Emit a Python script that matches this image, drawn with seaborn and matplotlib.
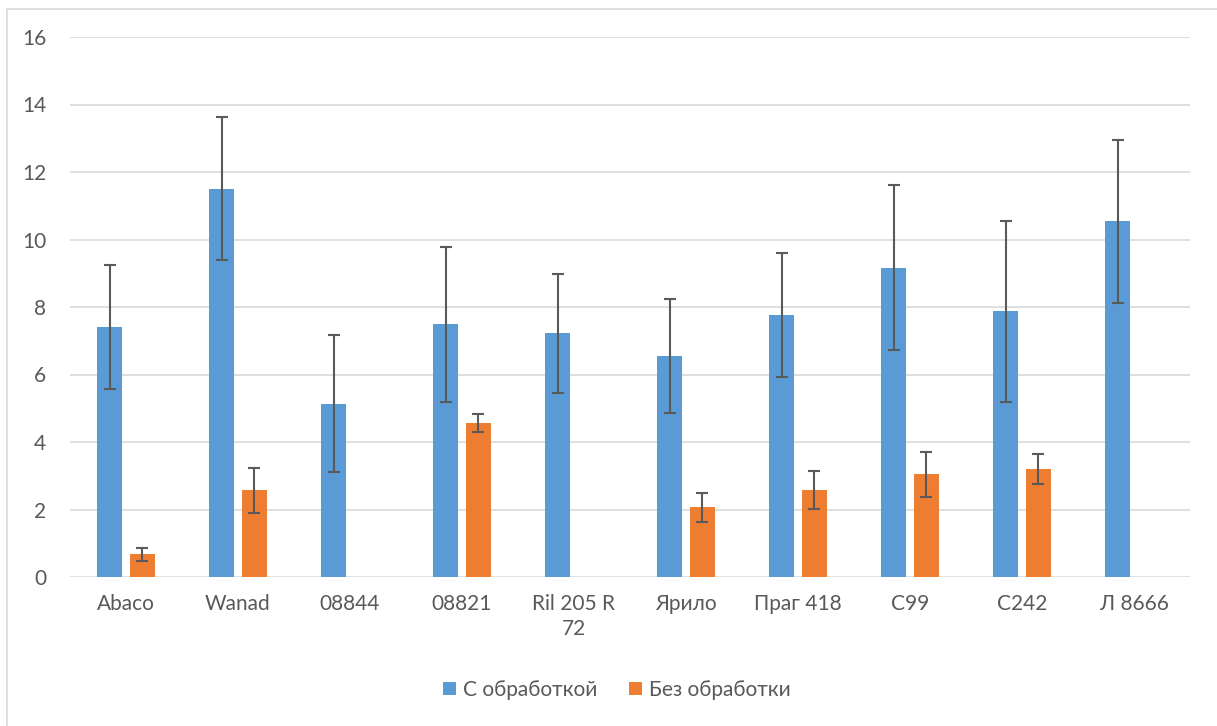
import numpy as np
import pandas as pd
import matplotlib
matplotlib.use("Agg")
import matplotlib.pyplot as plt
from matplotlib.patches import Patch, Rectangle
import seaborn as sns

# Varieties / lines on the x axis
categories = ["Abaco", "Wanad", "08844", "08821", "Ril 205 R\n72",
              "Ярило", "Праг 418", "C99", "C242", "Л 8666"]
series_names = ["С обработкой", "Без обработки"]

# Means (None = no measurement)
treated = [7.40, 11.50, 5.14, 7.49, 7.22, 6.55, 7.77, 9.17, 7.87, 10.54]
untreated = [0.67, 2.57, None, 4.57, None, 2.06, 2.57, 3.04, 3.20, None]

# Error bar half-widths
treated_err = [1.83, 2.12, 2.04, 2.30, 1.76, 1.69, 1.84, 2.45, 2.67, 2.42]
untreated_err = [0.20, 0.67, None, 0.26, None, 0.43, 0.56, 0.66, 0.44, None]

yticks = [0, 2, 4, 6, 8, 10, 12, 14, 16]

colors = {"С обработкой": "#5B9BD5", "Без обработки": "#ED7D31"}
text_color = "#595959"
grid_color = "#D9D9D9"

rows = []
for cat, t, u in zip(categories, treated, untreated):
    rows.append({"cat": cat, "series": series_names[0], "value": t})
    if u is not None:
        rows.append({"cat": cat, "series": series_names[1], "value": u})
df = pd.DataFrame(rows)

sns.set_theme(style="white")
plt.rcParams["font.family"] = ["Lato", "DejaVu Sans"]

fig = plt.figure(figsize=(12.17, 7.26), dpi=100)
ax = fig.add_axes([70 / 1217, 1 - 577 / 726, 1120 / 1217, 540 / 726])

sns.barplot(data=df, x="cat", y="value", hue="series",
            order=categories, hue_order=series_names, palette=colors,
            saturation=1, width=0.572, gap=0.22, errorbar=None,
            legend=False, linewidth=0, ax=ax, zorder=3)

# Error bars centred on each drawn bar
errs = {series_names[0]: treated_err, series_names[1]: untreated_err}
for container, name in zip(ax.containers, series_names):
    for bar in container:
        xc = bar.get_x() + bar.get_width() / 2
        idx = int(round(xc))
        e = errs[name][idx]
        if e is None:
            continue
        ax.errorbar(xc, bar.get_height(), yerr=e, fmt="none",
                    ecolor="#5A5A5A", elinewidth=1.5, capsize=4.3,
                    capthick=1.5, zorder=4)

ax.set_xlim(-0.5, len(categories) - 0.5)
ax.set_ylim(0, 16)
ax.set_yticks(yticks)
ax.set_yticklabels([str(v) for v in yticks])
ax.set_xlabel("")
ax.set_ylabel("")

ax.grid(axis="y", color=grid_color, linewidth=1.2, zorder=0)
ax.set_axisbelow(True)
for s in ax.spines.values():
    s.set_visible(False)

ax.tick_params(axis="x", length=0, pad=12, labelsize=15, labelcolor=text_color)
ax.tick_params(axis="y", length=0, pad=17, labelsize=15, labelcolor=text_color)
for lbl in ax.get_xticklabels():
    lbl.set_linespacing(1.35)

handles = [Patch(facecolor=colors[n], edgecolor="none", label=n) for n in series_names]
fig.legend(handles=handles, loc="center", bbox_to_anchor=(0.507, 0.05),
           ncol=2, frameon=False, fontsize=15, labelcolor=text_color,
           handlelength=0.62, handleheight=0.62, handletextpad=0.35,
           columnspacing=1.5)

# Chart-area border
fig.patches.append(Rectangle((7 / 1217, -0.2), 1.5, 0.2 + 1 - 8.5 / 726,
                             transform=fig.transFigure, fill=False,
                             edgecolor=grid_color, linewidth=1.2))

fig.savefig("out.png", dpi=100)
